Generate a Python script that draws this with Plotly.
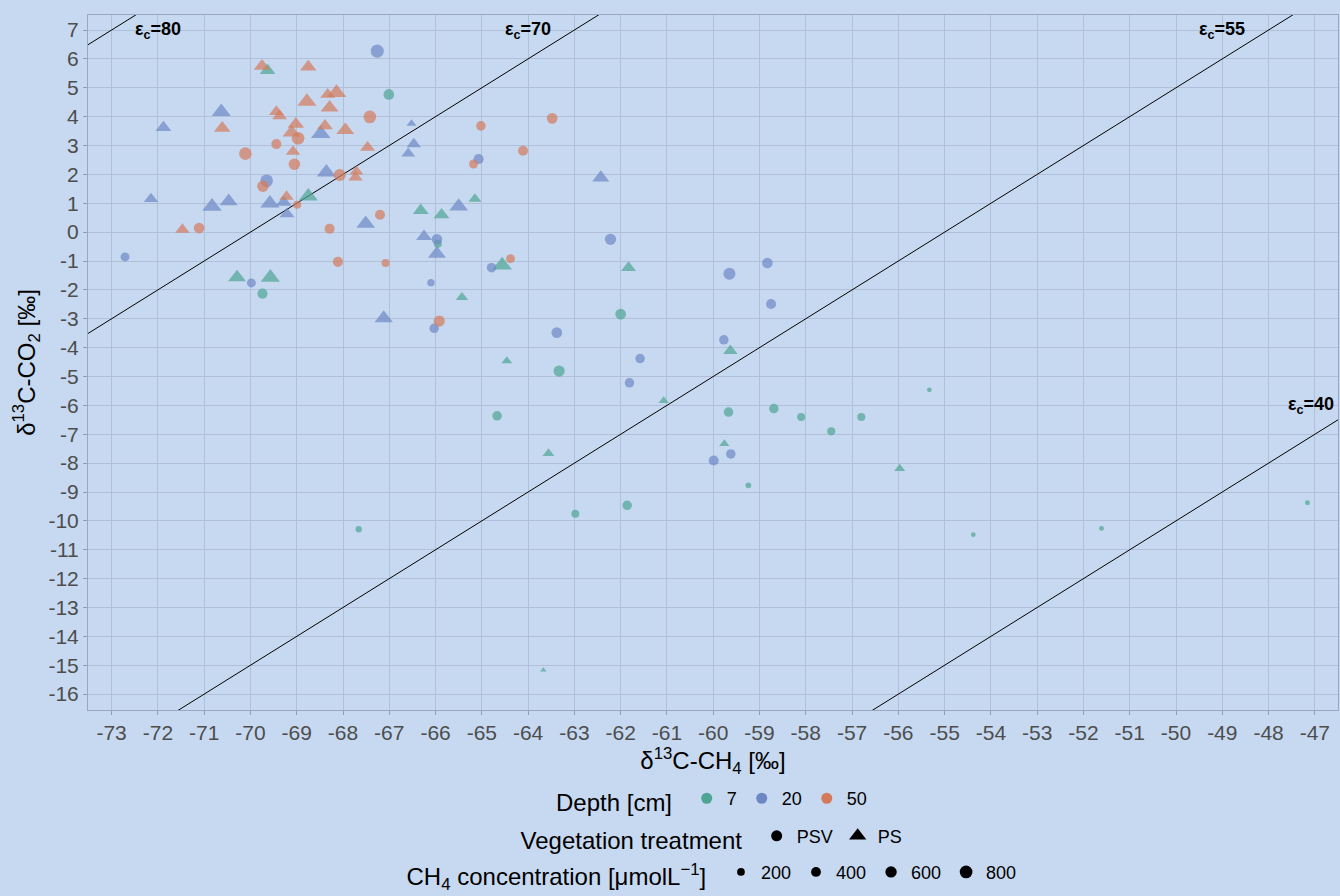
import numpy as np
import plotly.graph_objects as go

# ---------------- data ----------------
ch4 = [-67.26, -69.75, -69.63, -68.75, -67.01, -68.33, -68.14, -68.78, -68.29, -67.42,
       -70.63, -69.44, -69.37, -70.61, -71.88, -69.02, -69.11, -68.97, -68.48, -68.39,
       -67.95, -66.52, -65.02, -69.44, -70.11, -69.08, -67.47, -66.47, -66.59, -64.11,
       -65.07, -65.18, -69.05, -69.65, -69.73, -68.36, -68.07, -67.71, -67.73, -68.75,
       -69.22, -69.58, -69.28, -69.21, -68.99, -70.83, -70.47, -72.15, -71.47, -71.11,
       -72.71, -68.29, -67.20, -67.51, -66.32, -65.87, -65.50, -65.15, -66.25, -65.97,
       -65.95, -65.97, -68.11, -67.08, -64.79, -64.56, -64.38, -70.29, -69.98, -69.57,
       -69.74, -66.10, -65.43, -67.12, -67.66, -63.48, -62.43, -62.22, -61.83, -59.65,
       -58.83, -65.92, -66.03, -58.75, -62.00, -63.38, -59.77, -59.63, -64.46, -61.58,
       -63.33, -61.81, -61.07, -64.67, -59.67, -58.69, -58.10, -57.45, -63.56, -59.76,
       -59.62, -59.99, -59.24, -56.80, -55.33, -55.97, -54.38, -51.61, -47.16, -62.98,
       -61.86, -63.67]
co2 = [6.27, 5.75, 5.60, 5.72, 4.77, 4.77, 4.83, 4.52, 4.31, 3.99,
       4.17, 4.17, 4.02, 3.60, 3.62, 3.74, 3.45, 3.25, 3.41, 3.68,
       3.53, 3.76, 3.68, 3.05, 2.72, 2.79, 2.93, 3.05, 2.72, 2.82,
       2.53, 2.36, 2.35, 1.78, 1.59, 2.07, 1.98, 2.10, 1.90, 1.24,
       1.23, 1.00, 1.03, 0.63, 0.95, 0.89, 1.07, 1.15, 0.09, 0.14,
       -0.86, 0.12, 0.60, 0.29, 0.75, 0.60, 0.89, 1.15, -0.15, -0.25,
       -0.40, -0.75, -1.03, -1.07, -1.23, -1.15, -0.92, -1.57, -1.76, -1.57,
       -2.13, -1.75, -2.26, -2.98, -10.29, 3.94, 1.88, -0.25, -1.23, -1.44,
       -1.07, -3.08, -3.33, -2.49, -2.84, -3.48, -3.73, -4.11, -4.46, -4.38,
       -4.81, -5.22, -5.84, -6.36, -6.23, -6.11, -6.40, -6.90, -7.66, -7.33,
       -7.68, -7.91, -8.77, -6.40, -5.46, -8.19, -10.48, -10.26, -9.37, -9.75,
       -9.46, -15.17]
depth = [20, 50, 7, 50, 7, 50, 50, 50, 50, 50,
         20, 50, 50, 50, 20, 50, 50, 50, 20, 50,
         50, 20, 50, 50, 50, 50, 50, 20, 20, 50,
         20, 50, 50, 20, 50, 20, 50, 50, 50, 7,
         50, 20, 20, 20, 50, 20, 20, 20, 50, 50,
         20, 50, 50, 20, 7, 7, 20, 7, 20, 20,
         7, 20, 50, 50, 20, 7, 50, 7, 20, 7,
         7, 20, 7, 20, 7, 50, 20, 20, 7, 20,
         20, 50, 20, 20, 7, 20, 20, 7, 7, 20,
         7, 20, 7, 7, 7, 7, 7, 7, 7, 7,
         20, 20, 7, 7, 7, 7, 7, 7, 7, 7,
         7, 7]
veg = ["PSV", "PS", "PS", "PS", "PSV", "PS", "PS", "PS", "PS", "PSV",
       "PS", "PS", "PS", "PS", "PS", "PS", "PS", "PSV", "PS", "PS",
       "PS", "PS", "PSV", "PSV", "PSV", "PS", "PS", "PS", "PS", "PSV",
       "PSV", "PSV", "PSV", "PSV", "PSV", "PS", "PSV", "PS", "PS", "PS",
       "PS", "PS", "PS", "PS", "PSV", "PS", "PS", "PS", "PS", "PSV",
       "PSV", "PSV", "PSV", "PS", "PS", "PS", "PS", "PS", "PS", "PSV",
       "PSV", "PS", "PSV", "PSV", "PSV", "PS", "PSV", "PS", "PSV", "PS",
       "PSV", "PSV", "PS", "PS", "PSV", "PSV", "PS", "PSV", "PS", "PSV",
       "PSV", "PSV", "PSV", "PSV", "PSV", "PSV", "PSV", "PS", "PS", "PSV",
       "PSV", "PSV", "PS", "PSV", "PSV", "PSV", "PSV", "PSV", "PS", "PS",
       "PSV", "PSV", "PSV", "PSV", "PSV", "PS", "PSV", "PSV", "PSV", "PSV",
       "PSV", "PS"]
conc = [1100, 650, 580, 650, 650, 500, 1000, 950, 800, 1000,
        950, 500, 500, 650, 580, 650, 800, 1000, 1000, 580,
        800, 150, 480, 560, 1000, 450, 500, 450, 400, 560,
        560, 400, 800, 1000, 800, 950, 900, 400, 450, 950,
        450, 950, 580, 500, 300, 1000, 800, 450, 450, 650,
        400, 560, 560, 900, 580, 580, 900, 350, 580, 650,
        300, 800, 560, 300, 480, 1000, 400, 800, 400, 950,
        560, 230, 300, 850, 150, 650, 720, 750, 500, 900,
        650, 750, 480, 560, 650, 650, 480, 450, 200, 480,
        750, 480, 170, 480, 480, 480, 300, 300, 260, 170,
        480, 560, 100, 300, 50, 200, 50, 60, 60, 300,
        480, 30]

depth_levels = [7, 20, 50]
depth_labels = ["7", "20", "50"]
depth_colors = {7: "#4fa594", 20: "#6d87c5", 50: "#d47a5b"}
veg_levels = ["PSV", "PS"]
veg_symbols = {"PSV": "circle", "PS": "triangle-up"}
size_breaks = [200, 400, 600, 800]
size_labels = ["200", "400", "600", "800"]

eps_values = [80, 70, 55, 40]
eps_label_x = [-72.0, -64.0, -49.0, -46.55]
eps_label_y = [7.0, 7.0, 7.0, -6.0]
eps_label_anchor = ["center", "center", "center", "right"]

x_ticks = list(range(-73, -46))
y_ticks = list(range(-16, 8))

# ---------------- styling helpers ----------------
BG = "#c7d9f1"
GRID = "#b0c0d8"
FONT = "Liberation Sans, Arial, sans-serif"


def diam(c):
    return 2.5 + 0.32 * np.sqrt(np.asarray(c, dtype=float))


def msize(c, sym):
    d = diam(c)
    return d * 1.35 if sym == "triangle-up" else d


fig = go.Figure()

# epsilon lines  y = x + eps
line_x = [-80.0, -40.0]
for e in eps_values:
    fig.add_trace(go.Scatter(x=line_x, y=[v + e for v in line_x], mode="lines",
                             line=dict(color="black", width=1), showlegend=False,
                             hoverinfo="skip"))

# data points
n = len(ch4)
for d in depth_levels:
    for v in veg_levels:
        idx = [i for i in range(n) if depth[i] == d and veg[i] == v]
        if not idx:
            continue
        sym = veg_symbols[v]
        fig.add_trace(go.Scatter(
            x=[ch4[i] for i in idx], y=[co2[i] for i in idx], mode="markers",
            marker=dict(color=depth_colors[d], symbol=sym,
                        size=[float(msize(conc[i], sym)) for i in idx],
                        line=dict(width=0)),
            showlegend=False))

# legend 1: depth
for d, lab in zip(depth_levels, depth_labels):
    fig.add_trace(go.Scatter(x=[None], y=[None], mode="markers", name=lab,
                             marker=dict(color=depth_colors[d], symbol="circle", size=11),
                             legend="legend"))
# legend 2: vegetation
for v in veg_levels:
    fig.add_trace(go.Scatter(x=[None], y=[None], mode="markers", name=v,
                             marker=dict(color="black", symbol=veg_symbols[v],
                                         size=11 if v == "PSV" else 15),
                             legend="legend2"))
# legend 3: concentration
for c, lab in zip(size_breaks, size_labels):
    fig.add_trace(go.Scatter(x=[None], y=[None], mode="markers", name=lab,
                             marker=dict(color="black", symbol="circle",
                                         size=float(diam(c)) * 1.1),
                             legend="legend3"))

for e, lx, ly, anc in zip(eps_values, eps_label_x, eps_label_y, eps_label_anchor):
    fig.add_annotation(x=lx, y=ly, xref="x", yref="y", showarrow=False, xanchor=anc,
                       text="<b>ε<sub>c</sub>=%d</b>" % e,
                       font=dict(size=18, color="black", family=FONT))

axis_common = dict(showgrid=True, gridcolor=GRID, gridwidth=1, zeroline=False,
                   showline=True, linecolor="#98a8c2", linewidth=1, mirror=True,
                   ticks="outside", ticklen=4, tickcolor="#8e9db6",
                   tickfont=dict(size=21, color="#4d4d4d", family=FONT))

TITLE_FONT = dict(size=24, color="black", family=FONT)
leg_common = dict(orientation="h", x=0.5, xanchor="center", yanchor="middle",
                  bgcolor="rgba(0,0,0,0)", itemsizing="trace", itemwidth=30,
                  font=dict(size=18, color="black", family=FONT))

fig.update_layout(
    width=1340, height=896,
    margin=dict(l=88, r=2, t=15, b=186, autoexpand=False),
    paper_bgcolor=BG, plot_bgcolor=BG,
    font=dict(family=FONT, color="black"),
    xaxis=dict(range=[-73.51, -46.5], tickvals=x_ticks,
               ticktext=[str(t) for t in x_ticks],
               title=dict(text="δ<sup>13</sup>C-CH<sub>4</sub> [‰]",
                          font=TITLE_FONT, standoff=6),
               **axis_common),
    yaxis=dict(range=[-16.55, 7.52], tickvals=y_ticks,
               ticktext=[str(t) for t in y_ticks],
               title=dict(text="δ<sup>13</sup>C-CO<sub>2</sub> [‰]",
                          font=TITLE_FONT, standoff=6),
               **axis_common),
    legend=dict(y=-0.131, title=dict(text="Depth [cm] ", font=TITLE_FONT), **leg_common),
    legend2=dict(y=-0.185, title=dict(text="Vegetation treatment ", font=TITLE_FONT),
                 **leg_common),
    legend3=dict(y=-0.237,
                 title=dict(text="CH<sub>4</sub> concentration [μmolL<sup>−1</sup>] ",
                            font=TITLE_FONT),
                 **leg_common),
    showlegend=True,
)

fig.write_html("out.html", config={"displayModeBar": False},
               post_script="document.body.style.margin='0px';document.body.style.background='%s';" % BG)
